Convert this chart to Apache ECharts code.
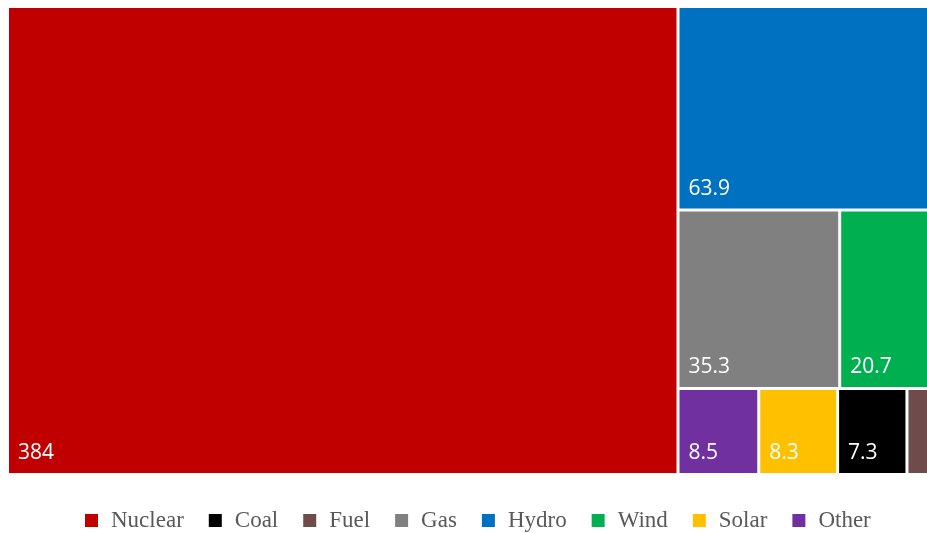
<!DOCTYPE html>
<html>
<head>
<meta charset="utf-8">
<script src="https://cdn.jsdelivr.net/npm/echarts@6/dist/echarts.min.js"></script>
<style>
  html, body { margin: 0; padding: 0; background: #ffffff; }
  #chart { width: 927px; height: 533px; }
</style>
</head>
<body>
<div id="chart"></div>
<script>
// Electricity generation by source
const sources = ['Nuclear', 'Hydro', 'Gas', 'Wind', 'Other', 'Solar', 'Coal', 'Fuel'];
const values = [384, 63.9, 35.3, 20.7, 8.5, 8.3, 7.3, 2.9];
const colors = ['#C00000', '#0070C0', '#808080', '#00B050', '#7030A0', '#FFC000', '#000000', '#704B4C'];
const legendOrder = ['Nuclear', 'Coal', 'Fuel', 'Gas', 'Hydro', 'Wind', 'Solar', 'Other'];
const unlabeled = ['Fuel'];

const treeData = sources.map((name, i) => ({
  name: name,
  value: values[i],
  itemStyle: { color: colors[i] },
  label: { show: unlabeled.indexOf(name) < 0 }
}));

// hidden pie used only to feed the legend with names and colours
const legendFeed = sources.map((name, i) => ({
  name: name,
  value: values[i],
  itemStyle: { color: colors[i] }
}));

const chart = echarts.init(document.getElementById('chart'), null, { renderer: 'canvas' });

chart.setOption({
  animation: false,
  backgroundColor: '#ffffff',
  legend: {
    data: legendOrder,
    left: 85,
    top: 509,
    padding: 0,
    icon: 'rect',
    itemWidth: 13,
    itemHeight: 13,
    itemGap: 25,
    selectedMode: false,
    textStyle: {
      fontFamily: 'Liberation Serif',
      fontSize: 23,
      color: '#595959',
      padding: [0, 0, 0, 8]
    }
  },
  series: [
    {
      type: 'treemap',
      left: 9,
      top: 8,
      width: 924,
      height: 465,
      roam: false,
      nodeClick: false,
      breadcrumb: { show: false },
      sort: 'desc',
      squareRatio: 1,
      itemStyle: { gapWidth: 3, borderWidth: 0, borderColor: '#ffffff' },
      levels: [
        { itemStyle: { gapWidth: 3, borderWidth: 0 } },
        { itemStyle: { borderWidth: 0 } }
      ],
      label: {
        show: true,
        position: 'insideBottomLeft',
        distance: 4,
        color: '#ffffff',
        fontFamily: 'Open Sans',
        fontSize: 21,
        formatter: p => String(p.value)
      },
      emphasis: { disabled: true },
      data: treeData
    },
    {
      type: 'pie',
      silent: true,
      center: [-300, -300],
      radius: 1,
      label: { show: false },
      labelLine: { show: false },
      data: legendFeed
    }
  ]
});
</script>
</body>
</html>
